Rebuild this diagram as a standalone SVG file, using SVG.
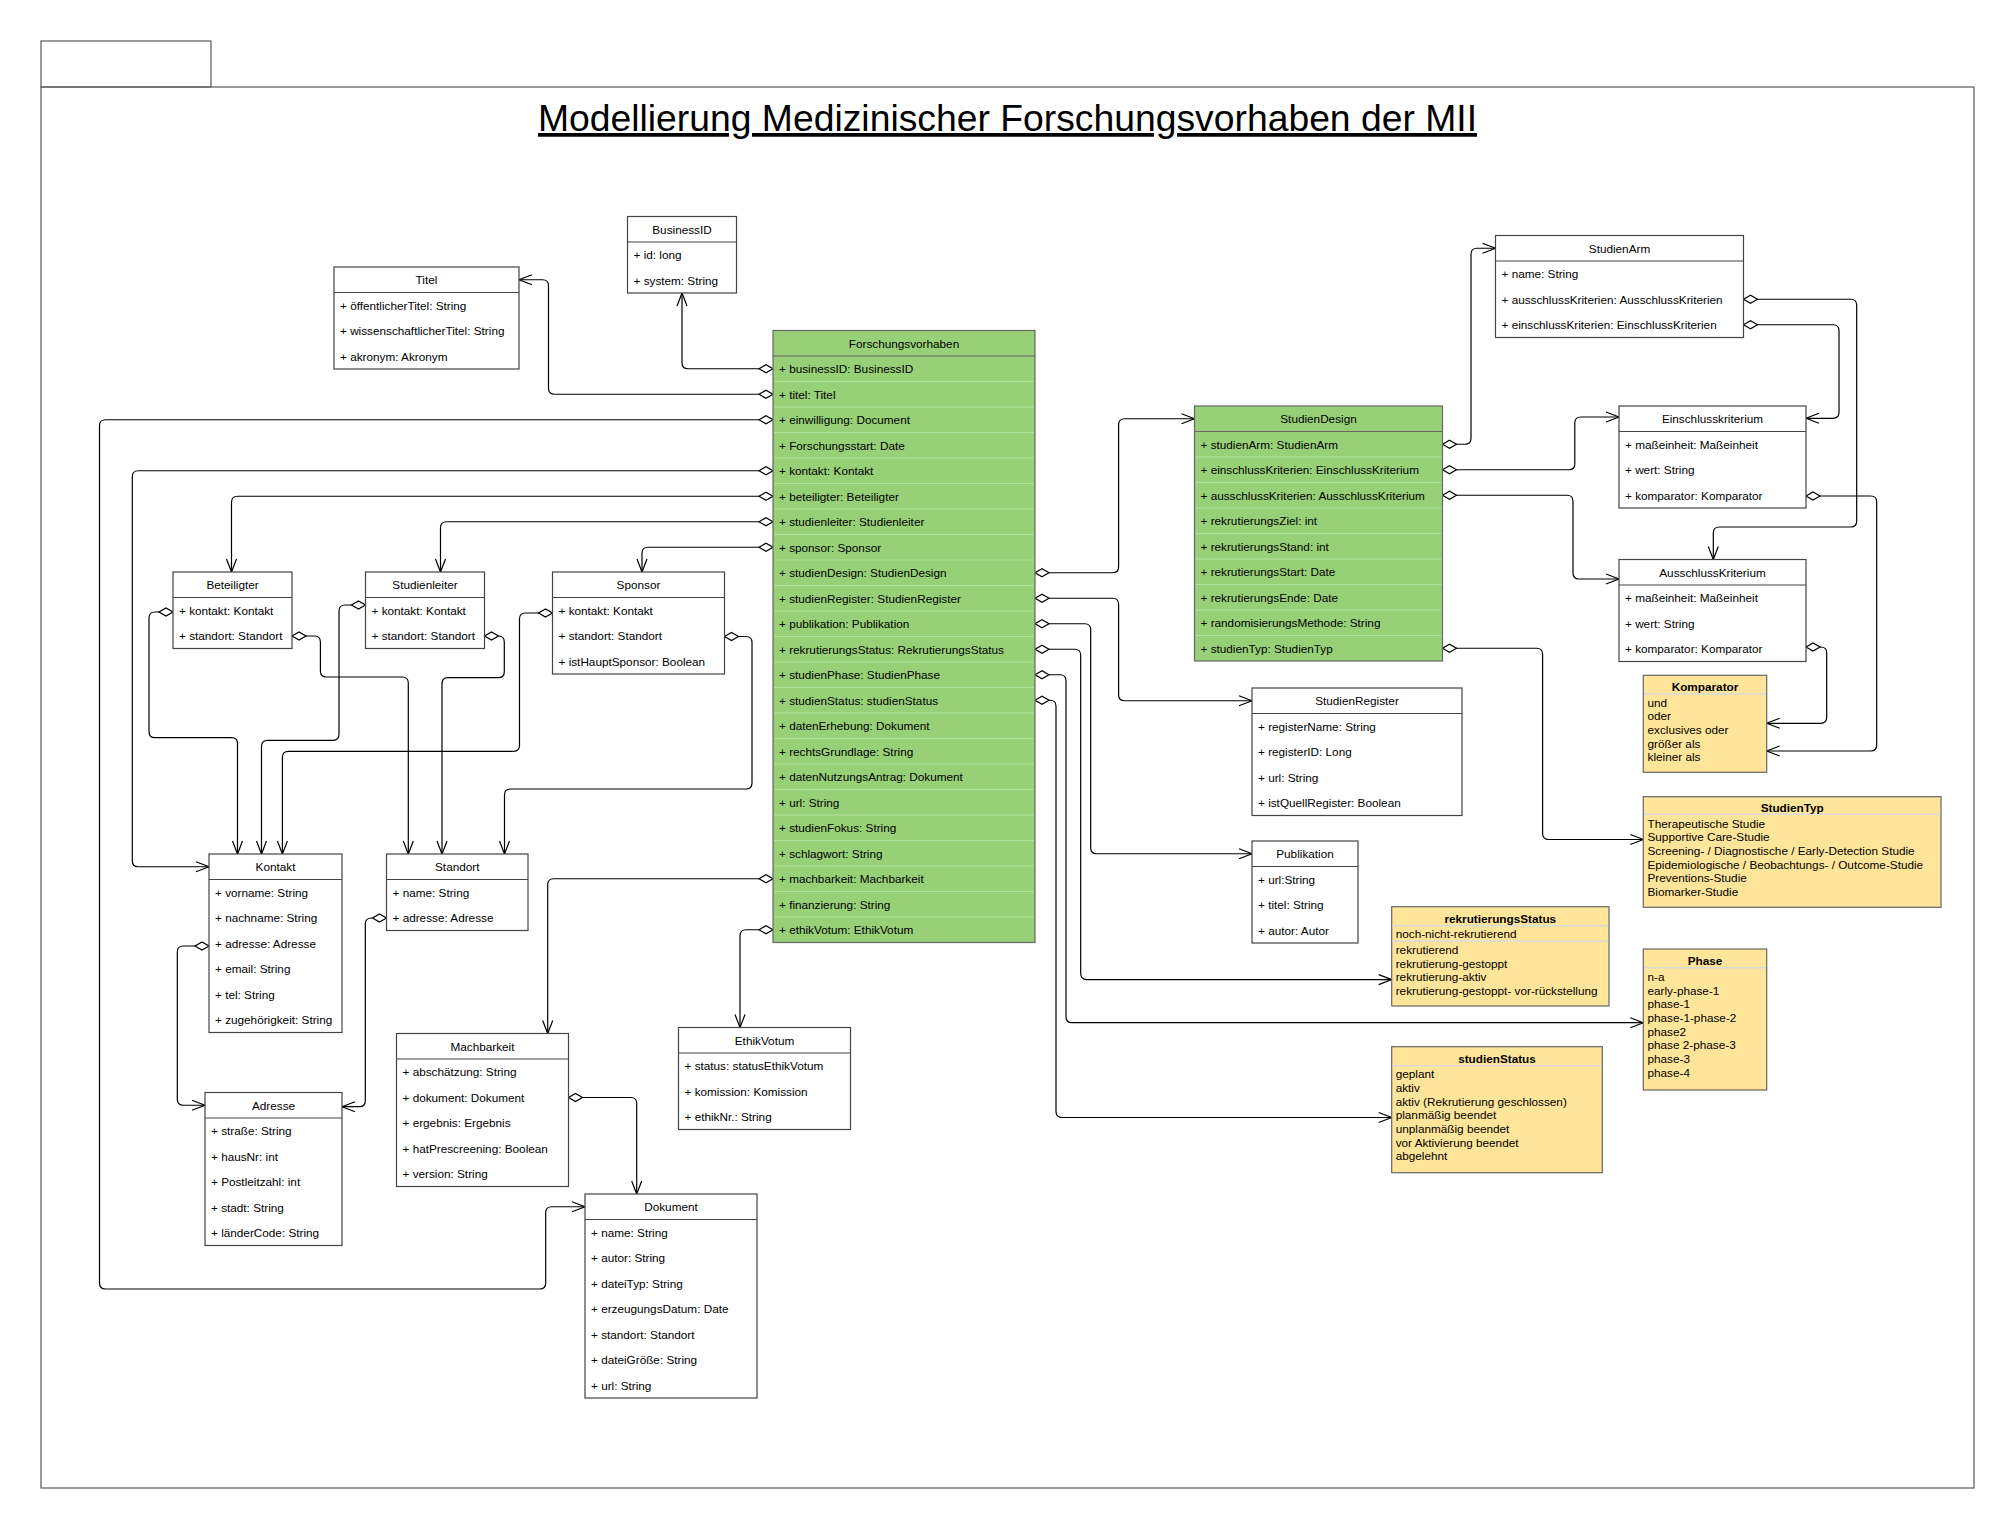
<svg xmlns="http://www.w3.org/2000/svg" width="2016" height="1529" viewBox="0 0 2016 1529">
<style>
.bg{fill:#fff}
.pkg{fill:none;stroke:#666;stroke-width:1.3}
.box{fill:#fff;stroke:#444;stroke-width:1.2}
.grn{fill:#97d077;stroke:#666;stroke-width:1.2}
.enm{fill:#ffe599;stroke:#666;stroke-width:1.2}
.sep{stroke:#444;stroke-width:1.2}
.gsep{stroke:#b3dd9c;stroke-width:1}
.esep{stroke:#d9d9d9;stroke-width:1.5}
text{font-family:"Liberation Sans",Arial,Helvetica,sans-serif;font-size:11.76px;fill:#000;dominant-baseline:central}
.c{text-anchor:middle}
.b{font-weight:bold}
.title{font-size:37.3px;text-anchor:middle;text-decoration:underline;dominant-baseline:alphabetic}
.cn{fill:none;stroke:#000;stroke-width:1.2;marker-start:url(#dia);marker-end:url(#arr)}
</style>
<defs>
<marker id="dia" markerUnits="userSpaceOnUse" refX="0" refY="0" markerWidth="16" markerHeight="10" orient="auto" overflow="visible"><path d="M0,0 L7,-4 L14,0 L7,4 Z" fill="#fff" stroke="#000" stroke-width="1.2"/></marker>
<marker id="arr" markerUnits="userSpaceOnUse" refX="0" refY="0" markerWidth="16" markerHeight="12" orient="auto" overflow="visible"><path d="M-13,-5 L0,0 L-13,5" fill="none" stroke="#000" stroke-width="1.2"/></marker>
</defs>
<rect class="bg" x="0" y="0" width="2016" height="1529"/>
<g id="package">
<rect class="pkg" x="41" y="41" width="170" height="46"/>
<rect class="pkg" x="41" y="87" width="1933" height="1401"/>
<text class="title" x="1007.5" y="131">Modellierung Medizinischer Forschungsvorhaben der MII</text>
</g>
<g id="connectors">
<path class="cn" d="M773,368.75 H688 Q682,368.75 682,362.75 V293"/>
<path class="cn" d="M773,394.25 H554.5 Q548.5,394.25 548.5,388.25 V285.75 Q548.5,279.75 542.5,279.75 H519"/>
<path class="cn" d="M773,419.75 H105.5 Q99.5,419.75 99.5,425.75 V1283 Q99.5,1289 105.5,1289 H539.7 Q545.7,1289 545.7,1283 V1212.75 Q545.7,1206.75 551.7,1206.75 H585"/>
<path class="cn" d="M773,470.75 H138.3 Q132.3,470.75 132.3,476.75 V860.75 Q132.3,866.75 138.3,866.75 H209"/>
<path class="cn" d="M773,496.25 H237.5 Q231.5,496.25 231.5,502.25 V572"/>
<path class="cn" d="M773,521.75 H446.5 Q440.5,521.75 440.5,527.75 V572"/>
<path class="cn" d="M773,547.25 H648 Q642,547.25 642,553.25 V572"/>
<path class="cn" d="M1035,572.75 H1112.6 Q1118.6,572.75 1118.6,566.75 V424.75 Q1118.6,418.75 1124.6,418.75 H1194.5"/>
<path class="cn" d="M1035,598.25 H1112.6 Q1118.6,598.25 1118.6,604.25 V694.75 Q1118.6,700.75 1124.6,700.75 H1252"/>
<path class="cn" d="M1035,623.75 H1084.7 Q1090.7,623.75 1090.7,629.75 V847.75 Q1090.7,853.75 1096.7,853.75 H1252"/>
<path class="cn" d="M1035,649.25 H1074.7 Q1080.7,649.25 1080.7,655.25 V973.6 Q1080.7,979.6 1086.7,979.6 H1391.7"/>
<path class="cn" d="M1035,674.75 H1060 Q1066,674.75 1066,680.75 V1016.7 Q1066,1022.7 1072,1022.7 H1643.3"/>
<path class="cn" d="M1035,700.25 H1050 Q1056,700.25 1056,706.25 V1111.5 Q1056,1117.5 1062,1117.5 H1391.7"/>
<path class="cn" d="M773,878.75 H553.7 Q547.7,878.75 547.7,884.75 V1033.5"/>
<path class="cn" d="M773,929.75 H746 Q740,929.75 740,935.75 V1027.5"/>
<path class="cn" d="M1442.5,444.25 H1465 Q1471,444.25 1471,438.25 V254.25 Q1471,248.25 1477,248.25 H1495.5"/>
<path class="cn" d="M1442.5,469.75 H1568.8 Q1574.8,469.75 1574.8,463.75 V423 Q1574.8,417 1580.8,417 H1619"/>
<path class="cn" d="M1442.5,495.25 H1567 Q1573,495.25 1573,501.25 V573 Q1573,579 1579,579 H1619"/>
<path class="cn" d="M1442.5,648.25 H1536.6 Q1542.6,648.25 1542.6,654.25 V833.5 Q1542.6,839.5 1548.6,839.5 H1643.3"/>
<path class="cn" d="M1743.5,299.25 H1850.7 Q1856.7,299.25 1856.7,305.25 V521 Q1856.7,527 1850.7,527 H1719.3 Q1713.3,527 1713.3,533 V559.5"/>
<path class="cn" d="M1743.5,324.75 H1833 Q1839,324.75 1839,330.75 V412.3 Q1839,418.3 1833,418.3 H1806"/>
<path class="cn" d="M1806,496 H1870.7 Q1876.7,496 1876.7,502 V745 Q1876.7,751 1870.7,751 H1766.7"/>
<path class="cn" d="M1806,647 H1820.7 Q1826.7,647 1826.7,653 V717.3 Q1826.7,723.3 1820.7,723.3 H1766.7"/>
<path class="cn" d="M173,612 H155 Q149,612 149,618 V731.7 Q149,737.7 155,737.7 H231.5 Q237.5,737.7 237.5,743.7 V854"/>
<path class="cn" d="M292,636 H314.4 Q320.4,636 320.4,642 V671 Q320.4,677 326.4,677 H402.3 Q408.3,677 408.3,683 V854"/>
<path class="cn" d="M365.5,605 H345 Q339,605 339,611 V734.3 Q339,740.3 333,740.3 H267.5 Q261.5,740.3 261.5,746.3 V854"/>
<path class="cn" d="M484.5,636 H498.3 Q504.3,636 504.3,642 V671.7 Q504.3,677.7 498.3,677.7 H448 Q442,677.7 442,683.7 V854"/>
<path class="cn" d="M552.5,613 H525.5 Q519.5,613 519.5,619 V745.3 Q519.5,751.3 513.5,751.3 H288.4 Q282.4,751.3 282.4,757.3 V854"/>
<path class="cn" d="M724.5,636.5 H746 Q752,636.5 752,642.5 V783 Q752,789 746,789 H510.5 Q504.5,789 504.5,795 V854"/>
<path class="cn" d="M209,946 H183.3 Q177.3,946 177.3,952 V1099.25 Q177.3,1105.25 183.3,1105.25 H205"/>
<path class="cn" d="M386.5,918 H371.3 Q365.3,918 365.3,924 V1100.7 Q365.3,1106.7 359.3,1106.7 H342"/>
<path class="cn" d="M568.5,1097.5 H630.7 Q636.7,1097.5 636.7,1103.5 V1194"/>
</g>
<g id="Titel">
<rect class="box" x="334" y="267" width="185" height="102"/>
<line class="sep" x1="334" y1="292.5" x2="519" y2="292.5"/>
<text class="c" x="426.5" y="279.75">Titel</text>
<text x="340" y="305.25">+ öffentlicherTitel: String</text>
<text x="340" y="330.75">+ wissenschaftlicherTitel: String</text>
<text x="340" y="356.25">+ akronym: Akronym</text>
</g>
<g id="BusinessID">
<rect class="box" x="627.5" y="216.5" width="109" height="76.5"/>
<line class="sep" x1="627.5" y1="242" x2="736.5" y2="242"/>
<text class="c" x="682" y="229.25">BusinessID</text>
<text x="633.5" y="254.75">+ id: long</text>
<text x="633.5" y="280.25">+ system: String</text>
</g>
<g id="Forschungsvorhaben">
<rect class="grn" x="773" y="330.5" width="262" height="612"/>
<g class="gsep">
<line x1="774" y1="381.5" x2="1034" y2="381.5"/><line x1="774" y1="407" x2="1034" y2="407"/><line x1="774" y1="432.5" x2="1034" y2="432.5"/><line x1="774" y1="458" x2="1034" y2="458"/><line x1="774" y1="483.5" x2="1034" y2="483.5"/><line x1="774" y1="509" x2="1034" y2="509"/><line x1="774" y1="534.5" x2="1034" y2="534.5"/><line x1="774" y1="560" x2="1034" y2="560"/><line x1="774" y1="585.5" x2="1034" y2="585.5"/><line x1="774" y1="611" x2="1034" y2="611"/><line x1="774" y1="636.5" x2="1034" y2="636.5"/><line x1="774" y1="662" x2="1034" y2="662"/><line x1="774" y1="687.5" x2="1034" y2="687.5"/><line x1="774" y1="713" x2="1034" y2="713"/><line x1="774" y1="738.5" x2="1034" y2="738.5"/><line x1="774" y1="764" x2="1034" y2="764"/><line x1="774" y1="789.5" x2="1034" y2="789.5"/><line x1="774" y1="815" x2="1034" y2="815"/><line x1="774" y1="840.5" x2="1034" y2="840.5"/><line x1="774" y1="866" x2="1034" y2="866"/><line x1="774" y1="891.5" x2="1034" y2="891.5"/><line x1="774" y1="917" x2="1034" y2="917"/>
</g>
<line class="sep" x1="773" y1="356" x2="1035" y2="356" style="stroke:#666"/>
<text class="c" x="904" y="343.25">Forschungsvorhaben</text>
<text x="779" y="368.75">+ businessID: BusinessID</text>
<text x="779" y="394.25">+ titel: Titel</text>
<text x="779" y="419.75">+ einwilligung: Document</text>
<text x="779" y="445.25">+ Forschungsstart: Date</text>
<text x="779" y="470.75">+ kontakt: Kontakt</text>
<text x="779" y="496.25">+ beteiligter: Beteiligter</text>
<text x="779" y="521.75">+ studienleiter: Studienleiter</text>
<text x="779" y="547.25">+ sponsor: Sponsor</text>
<text x="779" y="572.75">+ studienDesign: StudienDesign</text>
<text x="779" y="598.25">+ studienRegister: StudienRegister</text>
<text x="779" y="623.75">+ publikation: Publikation</text>
<text x="779" y="649.25">+ rekrutierungsStatus: RekrutierungsStatus</text>
<text x="779" y="674.75">+ studienPhase: StudienPhase</text>
<text x="779" y="700.25">+ studienStatus: studienStatus</text>
<text x="779" y="725.75">+ datenErhebung: Dokument</text>
<text x="779" y="751.25">+ rechtsGrundlage: String</text>
<text x="779" y="776.75">+ datenNutzungsAntrag: Dokument</text>
<text x="779" y="802.25">+ url: String</text>
<text x="779" y="827.75">+ studienFokus: String</text>
<text x="779" y="853.25">+ schlagwort: String</text>
<text x="779" y="878.75">+ machbarkeit: Machbarkeit</text>
<text x="779" y="904.25">+ finanzierung: String</text>
<text x="779" y="929.75">+ ethikVotum: EthikVotum</text>
</g>
<g id="StudienArm">
<rect class="box" x="1495.5" y="235.5" width="248" height="102"/>
<line class="sep" x1="1495.5" y1="261" x2="1743.5" y2="261"/>
<text class="c" x="1619.5" y="248.25">StudienArm</text>
<text x="1501.5" y="273.75">+ name: String</text>
<text x="1501.5" y="299.25">+ ausschlussKriterien: AusschlussKriterien</text>
<text x="1501.5" y="324.75">+ einschlussKriterien: EinschlussKriterien</text>
</g>
<g id="StudienDesign">
<rect class="grn" x="1194.5" y="406" width="248" height="255"/>
<g class="gsep">
<line x1="1195.5" y1="457" x2="1441.5" y2="457"/><line x1="1195.5" y1="482.5" x2="1441.5" y2="482.5"/><line x1="1195.5" y1="508" x2="1441.5" y2="508"/><line x1="1195.5" y1="533.5" x2="1441.5" y2="533.5"/><line x1="1195.5" y1="559" x2="1441.5" y2="559"/><line x1="1195.5" y1="584.5" x2="1441.5" y2="584.5"/><line x1="1195.5" y1="610" x2="1441.5" y2="610"/><line x1="1195.5" y1="635.5" x2="1441.5" y2="635.5"/>
</g>
<line class="sep" x1="1194.5" y1="431.5" x2="1442.5" y2="431.5" style="stroke:#666"/>
<text class="c" x="1318.5" y="418.75">StudienDesign</text>
<text x="1200.5" y="444.25">+ studienArm: StudienArm</text>
<text x="1200.5" y="469.75">+ einschlussKriterien: EinschlussKriterium</text>
<text x="1200.5" y="495.25">+ ausschlussKriterien: AusschlussKriterium</text>
<text x="1200.5" y="520.75">+ rekrutierungsZiel: int</text>
<text x="1200.5" y="546.25">+ rekrutierungsStand: int</text>
<text x="1200.5" y="571.75">+ rekrutierungsStart: Date</text>
<text x="1200.5" y="597.25">+ rekrutierungsEnde: Date</text>
<text x="1200.5" y="622.75">+ randomisierungsMethode: String</text>
<text x="1200.5" y="648.25">+ studienTyp: StudienTyp</text>
</g>
<g id="Einschlusskriterium">
<rect class="box" x="1619" y="406" width="187" height="102"/>
<line class="sep" x1="1619" y1="431.5" x2="1806" y2="431.5"/>
<text class="c" x="1712.5" y="418.75">Einschlusskriterium</text>
<text x="1625" y="444.25">+ maßeinheit: Maßeinheit</text>
<text x="1625" y="469.75">+ wert: String</text>
<text x="1625" y="495.25">+ komparator: Komparator</text>
</g>
<g id="AusschlussKriterium">
<rect class="box" x="1619" y="559.5" width="187" height="102"/>
<line class="sep" x1="1619" y1="585" x2="1806" y2="585"/>
<text class="c" x="1712.5" y="572.25">AusschlussKriterium</text>
<text x="1625" y="597.75">+ maßeinheit: Maßeinheit</text>
<text x="1625" y="623.25">+ wert: String</text>
<text x="1625" y="648.75">+ komparator: Komparator</text>
</g>
<g id="StudienRegister">
<rect class="box" x="1252" y="688" width="210" height="127.5"/>
<line class="sep" x1="1252" y1="713.5" x2="1462" y2="713.5"/>
<text class="c" x="1357" y="700.75">StudienRegister</text>
<text x="1258" y="726.25">+ registerName: String</text>
<text x="1258" y="751.75">+ registerID: Long</text>
<text x="1258" y="777.25">+ url: String</text>
<text x="1258" y="802.75">+ istQuellRegister: Boolean</text>
</g>
<g id="Publikation">
<rect class="box" x="1252" y="841" width="106" height="102"/>
<line class="sep" x1="1252" y1="866.5" x2="1358" y2="866.5"/>
<text class="c" x="1305" y="853.75">Publikation</text>
<text x="1258" y="879.25">+ url:String</text>
<text x="1258" y="904.75">+ titel: String</text>
<text x="1258" y="930.25">+ autor: Autor</text>
</g>
<g id="Beteiligter">
<rect class="box" x="173" y="572" width="119" height="76.5"/>
<line class="sep" x1="173" y1="597.5" x2="292" y2="597.5"/>
<text class="c" x="232.5" y="584.75">Beteiligter</text>
<text x="179" y="610.25">+ kontakt: Kontakt</text>
<text x="179" y="635.75">+ standort: Standort</text>
</g>
<g id="Studienleiter">
<rect class="box" x="365.5" y="572" width="119" height="76.5"/>
<line class="sep" x1="365.5" y1="597.5" x2="484.5" y2="597.5"/>
<text class="c" x="425" y="584.75">Studienleiter</text>
<text x="371.5" y="610.25">+ kontakt: Kontakt</text>
<text x="371.5" y="635.75">+ standort: Standort</text>
</g>
<g id="Sponsor">
<rect class="box" x="552.5" y="572" width="172" height="102"/>
<line class="sep" x1="552.5" y1="597.5" x2="724.5" y2="597.5"/>
<text class="c" x="638.5" y="584.75">Sponsor</text>
<text x="558.5" y="610.25">+ kontakt: Kontakt</text>
<text x="558.5" y="635.75">+ standort: Standort</text>
<text x="558.5" y="661.25">+ istHauptSponsor: Boolean</text>
</g>
<g id="Kontakt">
<rect class="box" x="209" y="854" width="133" height="178.5"/>
<line class="sep" x1="209" y1="879.5" x2="342" y2="879.5"/>
<text class="c" x="275.5" y="866.75">Kontakt</text>
<text x="215" y="892.25">+ vorname: String</text>
<text x="215" y="917.75">+ nachname: String</text>
<text x="215" y="943.25">+ adresse: Adresse</text>
<text x="215" y="968.75">+ email: String</text>
<text x="215" y="994.25">+ tel: String</text>
<text x="215" y="1019.75">+ zugehörigkeit: String</text>
</g>
<g id="Standort">
<rect class="box" x="386.5" y="854" width="141.5" height="76.5"/>
<line class="sep" x1="386.5" y1="879.5" x2="528" y2="879.5"/>
<text class="c" x="457.25" y="866.75">Standort</text>
<text x="392.5" y="892.25">+ name: String</text>
<text x="392.5" y="917.75">+ adresse: Adresse</text>
</g>
<g id="Adresse">
<rect class="box" x="205" y="1092.5" width="137" height="153"/>
<line class="sep" x1="205" y1="1118" x2="342" y2="1118"/>
<text class="c" x="273.5" y="1105.25">Adresse</text>
<text x="211" y="1130.75">+ straße: String</text>
<text x="211" y="1156.25">+ hausNr: int</text>
<text x="211" y="1181.75">+ Postleitzahl: int</text>
<text x="211" y="1207.25">+ stadt: String</text>
<text x="211" y="1232.75">+ länderCode: String</text>
</g>
<g id="Machbarkeit">
<rect class="box" x="396.5" y="1033.5" width="172" height="153"/>
<line class="sep" x1="396.5" y1="1059" x2="568.5" y2="1059"/>
<text class="c" x="482.5" y="1046.25">Machbarkeit</text>
<text x="402.5" y="1071.75">+ abschätzung: String</text>
<text x="402.5" y="1097.25">+ dokument: Dokument</text>
<text x="402.5" y="1122.75">+ ergebnis: Ergebnis</text>
<text x="402.5" y="1148.25">+ hatPrescreening: Boolean</text>
<text x="402.5" y="1173.75">+ version: String</text>
</g>
<g id="EthikVotum">
<rect class="box" x="678.5" y="1027.5" width="172" height="102"/>
<line class="sep" x1="678.5" y1="1053" x2="850.5" y2="1053"/>
<text class="c" x="764.5" y="1040.25">EthikVotum</text>
<text x="684.5" y="1065.75">+ status: statusEthikVotum</text>
<text x="684.5" y="1091.25">+ komission: Komission</text>
<text x="684.5" y="1116.75">+ ethikNr.: String</text>
</g>
<g id="Dokument">
<rect class="box" x="585" y="1194" width="172" height="204"/>
<line class="sep" x1="585" y1="1219.5" x2="757" y2="1219.5"/>
<text class="c" x="671" y="1206.75">Dokument</text>
<text x="591" y="1232.25">+ name: String</text>
<text x="591" y="1257.75">+ autor: String</text>
<text x="591" y="1283.25">+ dateiTyp: String</text>
<text x="591" y="1308.75">+ erzeugungsDatum: Date</text>
<text x="591" y="1334.25">+ standort: Standort</text>
<text x="591" y="1359.75">+ dateiGröße: String</text>
<text x="591" y="1385.25">+ url: String</text>
</g>
<g id="Komparator">
<rect class="enm" x="1643.3" y="675.3" width="123.4" height="97"/>
<line class="esep" x1="1644" y1="694" x2="1766" y2="694"/>
<text class="c b" x="1705" y="686">Komparator</text>
<text x="1647.5" y="702">und</text>
<text x="1647.5" y="715.7">oder</text>
<text x="1647.5" y="729.4">exclusives oder</text>
<text x="1647.5" y="743.1">größer als</text>
<text x="1647.5" y="756.8">kleiner als</text>
</g>
<g id="StudienTyp">
<rect class="enm" x="1643.3" y="796.7" width="297.7" height="110.6"/>
<line class="esep" x1="1644" y1="814.3" x2="1940.3" y2="814.3"/>
<text class="c b" x="1792.2" y="807.3">StudienTyp</text>
<text x="1647.5" y="823">Therapeutische Studie</text>
<text x="1647.5" y="836.7">Supportive Care-Studie</text>
<text x="1647.5" y="850.4">Screening- / Diagnostische / Early-Detection Studie</text>
<text x="1647.5" y="864.1">Epidemiologische / Beobachtungs- / Outcome-Studie</text>
<text x="1647.5" y="877.8">Preventions-Studie</text>
<text x="1647.5" y="891.5">Biomarker-Studie</text>
</g>
<g id="rekrutierungsStatus">
<rect class="enm" x="1391.7" y="906.7" width="217.3" height="99.3"/>
<line class="esep" x1="1392.4" y1="925.7" x2="1608.3" y2="925.7"/>
<line class="esep" x1="1392.4" y1="941.3" x2="1608.3" y2="941.3"/>
<text class="c b" x="1500.3" y="918.3">rekrutierungsStatus</text>
<text x="1395.7" y="933.7">noch-nicht-rekrutierend</text>
<text x="1395.7" y="949.3">rekrutierend</text>
<text x="1395.7" y="963">rekrutierung-gestoppt</text>
<text x="1395.7" y="976.7">rekrutierung-aktiv</text>
<text x="1395.7" y="990.4">rekrutierung-gestoppt- vor-rückstellung</text>
</g>
<g id="Phase">
<rect class="enm" x="1643.3" y="949" width="123.4" height="141"/>
<line class="esep" x1="1644" y1="967.7" x2="1766" y2="967.7"/>
<text class="c b" x="1705" y="960.3">Phase</text>
<text x="1647.5" y="976.3">n-a</text>
<text x="1647.5" y="990">early-phase-1</text>
<text x="1647.5" y="1003.7">phase-1</text>
<text x="1647.5" y="1017.4">phase-1-phase-2</text>
<text x="1647.5" y="1031.1">phase2</text>
<text x="1647.5" y="1044.8">phase 2-phase-3</text>
<text x="1647.5" y="1058.5">phase-3</text>
<text x="1647.5" y="1072.2">phase-4</text>
</g>
<g id="studienStatus">
<rect class="enm" x="1391.7" y="1046.7" width="210.6" height="126"/>
<line class="esep" x1="1392.4" y1="1065.7" x2="1601.6" y2="1065.7"/>
<text class="c b" x="1497" y="1058.3">studienStatus</text>
<text x="1395.7" y="1073.7">geplant</text>
<text x="1395.7" y="1087.4">aktiv</text>
<text x="1395.7" y="1101.1">aktiv (Rekrutierung geschlossen)</text>
<text x="1395.7" y="1114.8">planmäßig beendet</text>
<text x="1395.7" y="1128.5">unplanmäßig beendet</text>
<text x="1395.7" y="1142.2">vor Aktivierung beendet</text>
<text x="1395.7" y="1155.9">abgelehnt</text>
</g>
</svg>
